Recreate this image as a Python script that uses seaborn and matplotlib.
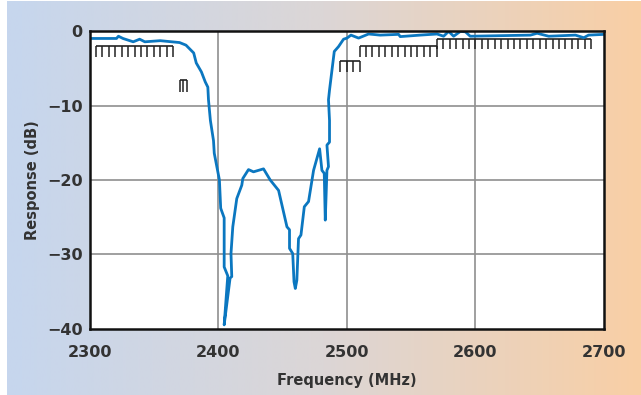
import numpy as np
import pandas as pd
import matplotlib.pyplot as plt
from matplotlib.colors import LinearSegmentedColormap
import seaborn as sns

# Measured filter response
freq = [2300, 2321, 2322.5, 2326, 2334, 2339, 2343, 2355, 2370, 2375, 2381, 2383,
        2387, 2390, 2392, 2392.5, 2394, 2396.4, 2397, 2399, 2401, 2402, 2404.7,
        2404.7, 2407.5, 2404.7, 2409.3, 2410.6, 2410, 2411.4, 2414.5, 2418.4,
        2419.2, 2423.6, 2427.5, 2435.3, 2440.5, 2447, 2453.5, 2455.5, 2455.5,
        2458, 2459, 2460, 2461.2, 2462.5, 2464.4, 2467, 2470.3, 2474.2, 2478.9,
        2480.7, 2482.5, 2483.3, 2484.6, 2485.8, 2484.6, 2486.6, 2486.6, 2485.8,
        2486.6, 2490.3, 2493.6, 2497.5, 2500.2, 2503.3, 2509.2, 2517, 2526,
        2540.3, 2541.6, 2557, 2570.2, 2575.3, 2579.2, 2583.1, 2588.3, 2592.2,
        2596, 2642.8, 2648, 2657, 2677.8, 2684.3, 2688, 2700]
response = [-0.95, -0.95, -0.65, -0.95, -1.4, -1.05, -1.4, -1.25, -1.5, -1.85, -2.9,
            -4.25, -5.45, -6.8, -7.5, -9.2, -12.0, -14.7, -16.4, -18.2, -20.0, -23.8,
            -25.1, -31.7, -32.9, -39.5, -33.2, -33.0, -29.9, -26.3, -22.5, -20.7,
            -19.8, -18.6, -18.9, -18.5, -20.0, -21.4, -26.3, -26.7, -29.2, -29.9,
            -33.7, -34.6, -33.5, -27.9, -27.4, -23.6, -22.9, -18.7, -15.8, -18.7,
            -19.1, -25.4, -18.7, -18.2, -15.3, -14.9, -12.0, -9.2, -7.9, -2.7,
            -2.05, -1.05, -0.9, -0.5, -0.9, -0.35, -0.5, -0.4, -0.7, -0.5, -0.35,
            -0.65, 0.0, -0.65, 0.0, -0.05, -0.65, -0.5, -0.25, -0.65, -0.5, -0.85,
            -0.5, -0.4]

# Spec mask combs: (first tooth, last tooth, step, top dB, bottom dB)
combs = [
    (2305, 2365, 5, -1.96, -3.4),
    (2370, 2376, 3, -6.5, -8.1),
    (2495, 2510, 5, -4.0, -5.4),
    (2510, 2570, 5, -1.96, -3.4),
    (2570, 2690, 5, -1.06, -2.4),
]

x_ticks = [2300, 2400, 2500, 2600, 2700]
y_ticks = [0, -10, -20, -30, -40]

df = pd.DataFrame({"Frequency": freq, "Response": response})

fig = plt.figure(figsize=(6.41, 3.95), dpi=100)

# gradient background
bg = fig.add_axes([7 / 641, 0, 1 - 7 / 641, 1 - 1 / 395])
cmap = LinearSegmentedColormap.from_list("bg", ["#c6d6ee", "#dcd6d6", "#f9cfa5"])
bg.imshow(np.linspace(0, 1, 256)[None, :], aspect="auto", cmap=cmap, extent=[0, 1, 0, 1])
bg.axis("off")

ax = fig.add_axes([89.5 / 641, 1 - 328.6 / 395, (604 - 89.5) / 641, (328.6 - 31.4) / 395])
ax.set_facecolor("white")

for x in x_ticks[1:-1]:
    ax.axvline(x, color="#8f8f8f", lw=1.2, zorder=1)
for y in y_ticks[1:-1]:
    ax.axhline(y, color="#8f8f8f", lw=1.2, zorder=1)

for start, stop, step, top, bottom in combs:
    teeth = np.arange(start, stop + 0.1, step)
    ax.hlines(top, start, stop, color="#222222", lw=1.2, zorder=2)
    ax.vlines(teeth, bottom, top, color="#222222", lw=1.1, zorder=2)

sns.lineplot(data=df, x="Frequency", y="Response", sort=False, estimator=None,
             color="#0b77c0", lw=2.0, ax=ax, zorder=3)

ax.set_xlim(2300, 2700)
ax.set_ylim(-40, 0)
ax.set_xticks(x_ticks)
ax.set_yticks(y_ticks)
ax.set_yticklabels(["0", "\u221210", "\u221220", "\u221230", "\u221240"])
ax.tick_params(length=0, labelsize=11.5, colors="#333333", pad=5)
ax.tick_params(axis="x", pad=11.5)
for lab in ax.get_xticklabels() + ax.get_yticklabels():
    lab.set_fontweight("bold")
ax.set_xlabel("Frequency (MHz)", fontsize=10.5, fontweight="bold", color="#333333", labelpad=10)
ax.set_ylabel("Response (dB)", fontsize=10.5, fontweight="bold", color="#333333", labelpad=5)
for s in ax.spines.values():
    s.set_color("#111111")
    s.set_linewidth(1.8)
    s.set_zorder(4)

fig.savefig("out.png", dpi=100)
